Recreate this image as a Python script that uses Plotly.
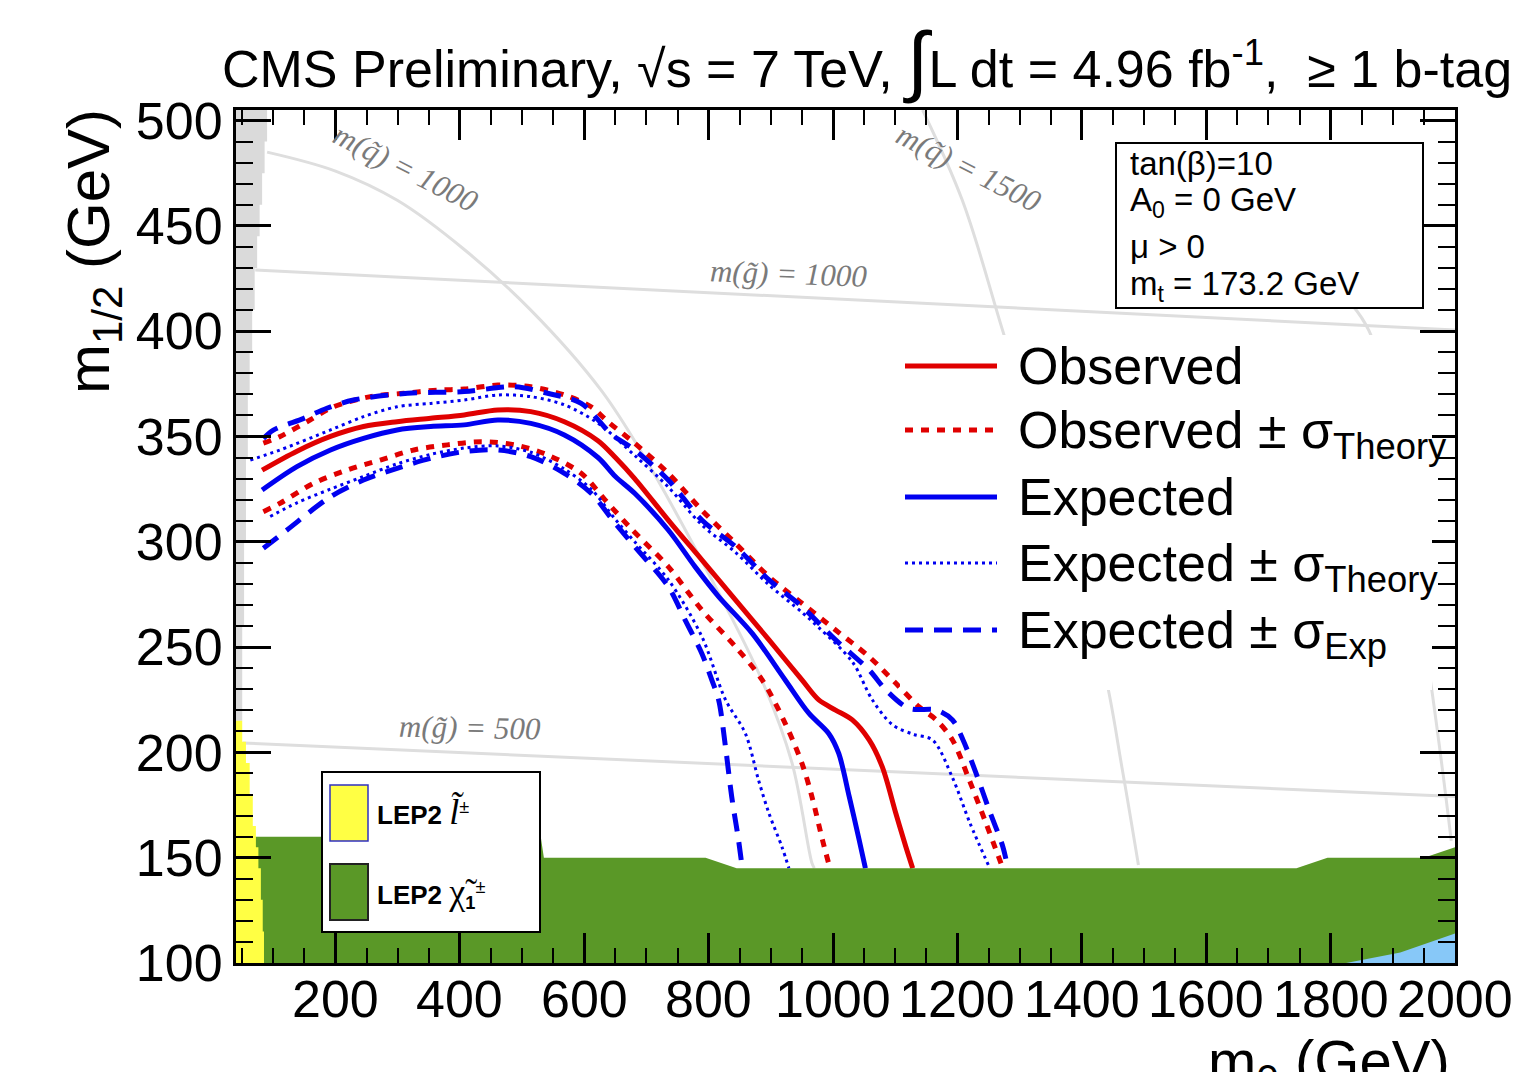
import plotly.graph_objects as go

# ---------------- data ----------------
# Observed (red solid)
obs_x = [82, 138, 192, 245, 299, 353, 407, 461, 514, 568, 622, 650, 681, 735, 789, 843, 897, 950, 977, 1004, 1031, 1058, 1079, 1101, 1117, 1128]
obs_y = [334, 343, 350, 354.7, 357, 358.6, 360.2, 362.6, 361.8, 357, 348, 340, 330, 310.3, 291.4, 272.4, 253.4, 234.4, 224.9, 220.1, 215.4, 205.9, 193.2, 171, 155.2, 145]
# Observed +/- sigma theory (red dotted)
obs_up_x = [84, 111, 159, 197, 256, 310, 364, 407, 461, 514, 568, 611, 638, 681, 735, 789, 843, 897, 950, 1004, 1058, 1101, 1138, 1166, 1192, 1219, 1246, 1273]
obs_up_y = [346.8, 350, 357.8, 364.1, 368.9, 370.5, 372, 372.5, 374.4, 373.6, 369.7, 364.1, 357, 346.8, 332.5, 315, 299.3, 283.4, 270.8, 258.1, 245.4, 232.8, 221.7, 215.4, 205.9, 186.9, 166.3, 145]
obs_dn_x = [84, 111, 165, 219, 272, 326, 380, 434, 488, 541, 595, 633, 676, 735, 789, 843, 886, 923, 950, 966, 983, 995]
obs_dn_y = [314.3, 318.3, 327.8, 334.1, 338.8, 343.6, 346, 347.5, 346, 341.2, 332.5, 320, 306, 288.2, 267.6, 250.2, 234.4, 213.8, 194.8, 179, 158.4, 145]
# Expected (blue solid)
exp_x = [82, 138, 192, 245, 299, 353, 407, 461, 514, 568, 622, 650, 681, 735, 778, 816, 870, 923, 961, 993, 1009, 1026, 1042, 1052]
exp_y = [324.6, 335.7, 343.6, 349.1, 353.1, 354.7, 355.5, 357.8, 356.2, 350.7, 340, 331, 323, 305.6, 288.2, 274, 256.5, 234.4, 218.6, 209, 199.6, 179, 158.4, 145]
# Expected +/- sigma theory (blue dotted)
exp_th_up_x = [63, 111, 192, 245, 299, 353, 407, 461, 514, 568, 622, 681, 735, 789, 843, 897, 950, 978, 1031, 1063, 1096, 1130, 1160, 1192, 1220, 1252]
exp_th_up_y = [338.8, 343.6, 353.1, 359.4, 364.1, 365.7, 367.3, 369.7, 368.9, 365, 356.3, 341, 326, 308, 295, 279.5, 266.5, 259, 243, 225, 213, 208.5, 205.9, 188, 166.5, 145]
exp_th_dn_x = [95, 138, 192, 245, 299, 353, 407, 461, 514, 568, 611, 649, 681, 735, 789, 827, 859, 880, 897, 918, 929]
exp_th_dn_y = [312, 318.5, 325, 331, 337, 341.5, 344.5, 345.5, 342.5, 334.5, 325, 311, 300, 282, 255, 225, 209, 187, 171, 155, 145]
# Expected +/- sigma experimental (blue dashed)
exp_ex_up_x = [84, 100, 149, 186, 229, 316, 407, 488, 541, 595, 644, 681, 735, 789, 843, 897, 950, 1004, 1058, 1085, 1122, 1166, 1192, 1209, 1230, 1251, 1273, 1281]
exp_ex_up_y = [349, 353, 358.6, 363.4, 367.3, 370.5, 371.3, 373.6, 370.5, 365.7, 351, 343.6, 329.3, 310.3, 297.7, 281.9, 269.2, 253.4, 239.1, 229.6, 220.9, 220.1, 215.4, 205.9, 190, 172.6, 155.2, 145]
exp_ex_dn_x = [84, 122, 192, 245, 299, 353, 407, 461, 514, 568, 611, 649, 681, 735, 762, 789, 805, 816, 827, 837, 848, 854]
exp_ex_dn_y = [296.9, 305.6, 321.4, 329.3, 334.9, 339.6, 342.8, 343.6, 340.4, 332.5, 323, 309, 297.7, 278.7, 262.9, 247, 234.4, 224.9, 202.7, 179, 158.4, 145]

# iso-mass reference lines
sq1000_x = [90, 200, 300, 406, 514, 627, 697, 805, 886, 934, 966, 970]
sq1000_y = [485, 476, 462, 439, 410, 372, 340, 282, 234, 195, 147.5, 145]
sq1500_x = [1144, 1208, 1273, 1350, 1434, 1465, 1491]
sq1500_y = [505, 462, 400, 325, 241.5, 192, 146.5]
sq2000_x = [1790, 1862, 1951, 1994]
sq2000_y = [425, 400, 253, 158]
gl1000_x = [71, 2000]
gl1000_y = [429, 400.6]
gl500_x = [51, 2000]
gl500_y = [204.5, 179]

# excluded regions
lep_chi_x = [40, 40, 530, 535, 795, 845, 1745, 1795, 1950, 2000, 2000]
lep_chi_y = [100, 160, 160, 150, 150, 145, 145, 150, 150, 155, 100]
lep_slep_x = [40, 44, 50, 50, 56, 56, 62, 62, 67, 67, 72, 72, 76, 76, 80, 80, 83, 83, 85, 85]
lep_slep_y = [215, 215, 215, 205, 205, 195, 195, 180, 180, 165, 165, 155, 155, 145, 145, 130, 130, 115, 115, 100]
tach_x = [40, 90, 90, 86, 86, 82, 82, 78, 78, 74, 74, 70, 70, 66, 66, 62, 62, 59, 59, 56, 56, 53, 53, 50, 50, 40]
tach_y = [505, 505, 490, 490, 475, 475, 460, 460, 445, 445, 430, 430, 410, 410, 390, 390, 370, 370, 340, 340, 300, 300, 260, 260, 215, 215]
blue_x = [1825, 1912, 2000, 2000]
blue_y = [100, 105, 114, 100]

x_ticks = [200, 400, 600, 800, 1000, 1200, 1400, 1600, 1800, 2000]
y_ticks = [100, 150, 200, 250, 300, 350, 400, 450, 500]

RED = '#e00000'
BLUE = '#0000f0'
GREEN = '#5a9827'
YELLOW = '#ffff44'
LBLUE = '#87c8f8'
GRAYL = '#dedede'
FONT = 'Liberation Sans'

fig = go.Figure()

# gray (tachyon) region
fig.add_trace(go.Scatter(x=tach_x, y=tach_y, fill='toself', fillcolor='#dadada',
                         line=dict(width=0), mode='lines', hoverinfo='skip'))
# iso lines
for xs, ys in [(sq1000_x, sq1000_y), (sq1500_x, sq1500_y), (sq2000_x, sq2000_y),
               (gl1000_x, gl1000_y), (gl500_x, gl500_y)]:
    fig.add_trace(go.Scatter(x=xs, y=ys, mode='lines',
                             line=dict(color=GRAYL, width=3, shape='spline', smoothing=1.0),
                             hoverinfo='skip'))

def curve(xs, ys, color, width, dash):
    fig.add_trace(go.Scatter(x=xs, y=ys, mode='lines',
                             line=dict(color=color, width=width, dash=dash, shape='spline', smoothing=0.9),
                             hoverinfo='skip'))

curve(obs_up_x, obs_up_y, RED, 5, '8px,8px')
curve(obs_dn_x, obs_dn_y, RED, 5, '8px,8px')
curve(exp_ex_up_x, exp_ex_up_y, BLUE, 5, '18px,11px')
curve(exp_ex_dn_x, exp_ex_dn_y, BLUE, 5, '18px,11px')
curve(exp_th_up_x, exp_th_up_y, BLUE, 3, '3px,4px')
curve(exp_th_dn_x, exp_th_dn_y, BLUE, 3, '3px,4px')
curve(obs_x, obs_y, RED, 5, 'solid')
curve(exp_x, exp_y, BLUE, 5, 'solid')

# LEP regions
fig.add_trace(go.Scatter(x=lep_chi_x, y=lep_chi_y, fill='toself', fillcolor=GREEN,
                         line=dict(width=0), mode='lines', hoverinfo='skip'))
fig.add_trace(go.Scatter(x=lep_slep_x + [40], y=lep_slep_y + [100], fill='toself', fillcolor=YELLOW,
                         line=dict(width=0), mode='lines', hoverinfo='skip'))
fig.add_trace(go.Scatter(x=blue_x, y=blue_y, fill='toself', fillcolor=LBLUE,
                         line=dict(width=0), mode='lines', hoverinfo='skip'))

# ---------- layout geometry helpers (page pixels -> paper) ----------
PL, PR, PT, PB = 236, 1455, 110, 963
def px(xp):
    return (xp - PL) / (PR - PL)
def py(yp):
    return (PB - yp) / (PB - PT)

shapes = []
ann = []

# x tick labels (placed at the axis' own tick values)
for v in x_ticks:
    ann.append(dict(x=v, y=py(999), xref='x', yref='paper', text=str(v), showarrow=False,
                    font=dict(family=FONT, size=52, color='black'), xanchor='center', yanchor='middle'))

# iso-line labels
lab_font = dict(family='Liberation Serif', size=31, color='#7a7a7a', style='italic')
for txt, cx, cy, ang in [('m(q̃) = 1000', 405, 168, 27), ('m(q̃) = 1500', 968, 168, 27),
                         ('m(g̃) = 1000', 788, 273, 2), ('m(g̃) = 500', 470, 727, 1)]:
    ann.append(dict(x=px(cx), y=py(cy), xref='paper', yref='paper', text=txt, showarrow=False,
                    textangle=ang, font=lab_font, xanchor='center', yanchor='middle'))

# info box
shapes.append(dict(type='rect', xref='paper', yref='paper', x0=px(1116), x1=px(1423), y0=py(143), y1=py(308),
                   fillcolor='white', line=dict(color='black', width=2), layer='above'))
for txt, yy in [('tan(β)=10', 163), ('A<sub>0</sub> = 0 GeV', 202), ('μ > 0', 246), ('m<sub>t</sub> = 173.2 GeV', 286)]:
    ann.append(dict(x=px(1128), y=py(yy), xref='paper', yref='paper', text=txt, showarrow=False,
                    font=dict(family=FONT, size=33, color='black'), xanchor='left', yanchor='middle'))

# curve legend
shapes.append(dict(type='rect', xref='paper', yref='paper', x0=px(900), x1=px(1432), y0=py(335), y1=py(690),
                   fillcolor='white', line=dict(width=0), layer='above'))
leg = [(366, RED, 5, 'solid', 'Observed'),
       (430, RED, 5, '8px,8px', 'Observed ± σ<sub>Theory</sub>'),
       (497, BLUE, 5, 'solid', 'Expected'),
       (563, BLUE, 3, '3px,4px', 'Expected ± σ<sub>Theory</sub>'),
       (630, BLUE, 5, '18px,11px', 'Expected ± σ<sub>Exp</sub>')]
for yy, col, w, d, txt in leg:
    shapes.append(dict(type='line', xref='paper', yref='paper', x0=px(905), x1=px(997), y0=py(yy), y1=py(yy),
                       line=dict(color=col, width=w, dash=d), layer='above'))
    ann.append(dict(x=px(1016), y=py(yy - 31), xref='paper', yref='paper', text=txt, showarrow=False,
                    font=dict(family=FONT, size=52, color='black'), xanchor='left', yanchor='top'))

# LEP legend
shapes.append(dict(type='rect', xref='paper', yref='paper', x0=px(322), x1=px(540), y0=py(772), y1=py(932),
                   fillcolor='white', line=dict(color='black', width=2), layer='above'))
shapes.append(dict(type='rect', xref='paper', yref='paper', x0=px(330), x1=px(368), y0=py(785), y1=py(841),
                   fillcolor=YELLOW, line=dict(color='#3030c0', width=1.5), layer='above'))
shapes.append(dict(type='rect', xref='paper', yref='paper', x0=px(330), x1=px(368), y0=py(864), y1=py(920),
                   fillcolor=GREEN, line=dict(color='#222222', width=2), layer='above'))
ann.append(dict(x=px(375), y=py(812), xref='paper', yref='paper',
                text="<b>LEP2</b> <span style='font-family:Liberation Serif;font-size:36px'><i>l̃</i></span><sup>±</sup>",
                showarrow=False, font=dict(family=FONT, size=26, color='black'), xanchor='left', yanchor='middle'))
ann.append(dict(x=px(375), y=py(892), xref='paper', yref='paper',
                text="<b>LEP2</b> <span style='font-family:Liberation Serif;font-size:36px'>χ̃</span><sub><b>1</b></sub><sup>±</sup>",
                showarrow=False, font=dict(family=FONT, size=26, color='black'), xanchor='left', yanchor='middle'))

# title
ann.append(dict(x=px(867), y=py(60), xref='paper', yref='paper',
                text="CMS Preliminary, √s = 7 TeV, <span style='font-size:78px'>∫</span>L dt = 4.96 fb<sup>-1</sup>,  ≥ 1 b-tag",
                showarrow=False, font=dict(family=FONT, size=52, color='black'), xanchor='center', yanchor='middle'))
# axis titles
ann.append(dict(x=px(1452), y=py(1026), xref='paper', yref='paper', text='m<sub>0</sub> (GeV)', showarrow=False,
                font=dict(family=FONT, size=58, color='black'), xanchor='right', yanchor='top'))
ann.append(dict(x=px(93), y=py(252), xref='paper', yref='paper', text='m<sub>1/2</sub> (GeV)', showarrow=False,
                textangle=-90, font=dict(family=FONT, size=60, color='black'), xanchor='center', yanchor='middle'))

W, H = 1510, 1064
OFF = 8
fig.update_layout(
    width=W, height=H,
    margin=dict(l=PL - OFF, r=W - (PR - OFF), t=PT - OFF, b=H - (PB - OFF)),
    paper_bgcolor='white', plot_bgcolor='white',
    showlegend=False,
    shapes=shapes, annotations=ann,
    font=dict(family=FONT, color='black'),
)
fig.update_xaxes(range=[40, 2000], tickvals=x_ticks, showticklabels=False,
                 ticks='inside', ticklen=30, tickwidth=2.5, tickcolor='black',
                 showline=True, linewidth=3, linecolor='black', mirror='ticks',
                 showgrid=False, zeroline=False,
                 minor=dict(dtick=50, tick0=0, ticks='inside', ticklen=15, tickwidth=2, tickcolor='black'))
fig.update_yaxes(range=[100, 505], tickvals=y_ticks, ticktext=[str(v) for v in y_ticks],
                 ticks='inside', ticklen=35, tickwidth=2.5, tickcolor='black',
                 showline=True, linewidth=3, linecolor='black', mirror='ticks',
                 showgrid=False, zeroline=False, tickfont=dict(family=FONT, size=52),
                 minor=dict(dtick=10, tick0=0, ticks='inside', ticklen=17, tickwidth=2, tickcolor='black'))

fig.write_html("out.html")
